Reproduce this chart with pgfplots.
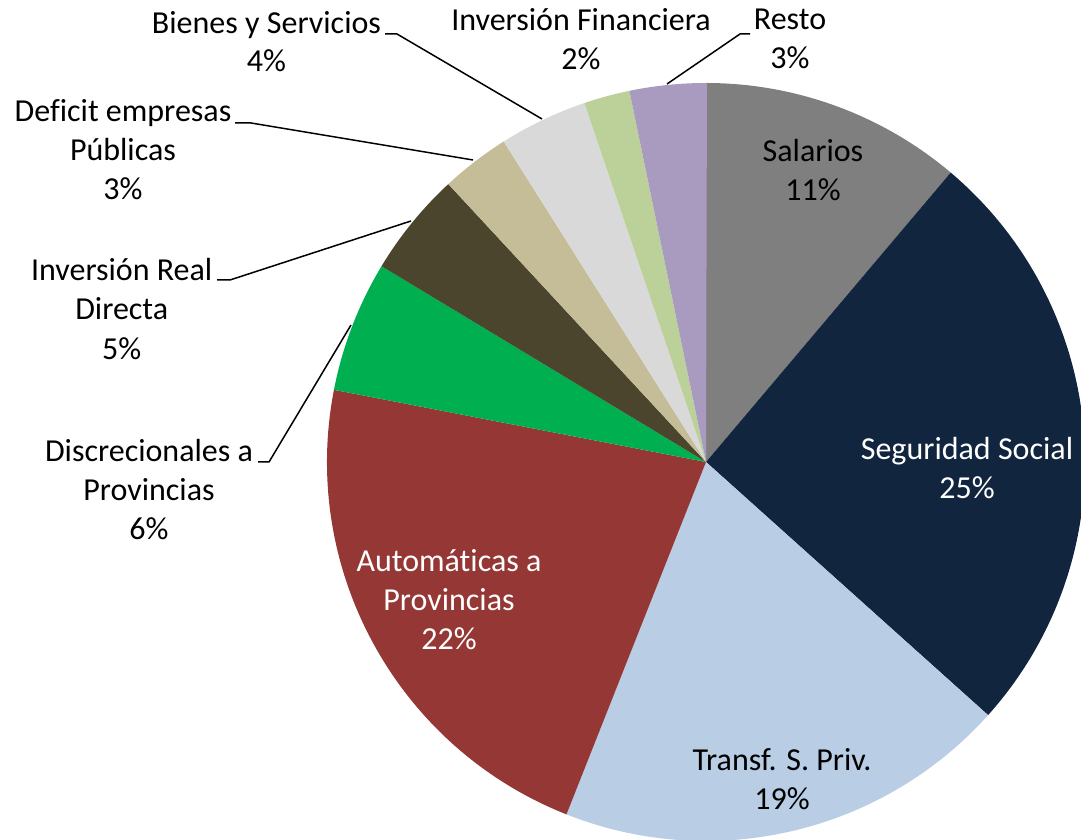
\documentclass[border=0pt]{standalone}
\usepackage{fontspec}
\setmainfont[Ligatures=NoCommon]{Carlito}
\usepackage{pgfplots}
\usepackage{pgfplotstable}
\pgfplotsset{compat=1.18}

\definecolor{cSal}{HTML}{7F7F7F}
\definecolor{cSeg}{HTML}{11253F}
\definecolor{cTra}{HTML}{B9CDE5}
\definecolor{cAut}{HTML}{953735}
\definecolor{cDis}{HTML}{00B050}
\definecolor{cInv}{HTML}{4A452C}
\definecolor{cDef}{HTML}{C4BD97}
\definecolor{cBie}{HTML}{D9D9D9}
\definecolor{cFin}{HTML}{BCD09A}
\definecolor{cRes}{HTML}{A99BC0}

% slice shares (%), clockwise from 12 o'clock
\pgfplotstableread{
value col
11.17 cSal
25.47 cSeg
19.36 cTra
22.05 cAut
5.59  cDis
4.46  cInv
2.94  cDef
3.76  cBie
1.96  cFin
3.28  cRes
}\piedata

\begin{document}
\begin{tikzpicture}[lab/.style={font=\fontsize{32bp}{39bp}\selectfont, anchor=base, inner sep=0pt}]
\begin{axis}[scale only axis, width=1081bp, height=840bp,
  xmin=0, xmax=1081, ymin=0, ymax=840, hide axis, clip=false]
\def\startang{90}
\pgfplotsforeachungrouped \i in {0,...,9}{%
  \pgfplotstablegetelem{\i}{value}\of\piedata \let\v\pgfplotsretval
  \pgfplotstablegetelem{\i}{col}\of\piedata \let\c\pgfplotsretval
  \pgfmathsetmacro\endang{\startang-3.6*\v}%
  \edef\temp{\noexpand\fill[\c] (axis cs:706,378) -- ++(\startang:379bp) arc[start angle=\startang, end angle=\endang, radius=379bp] -- cycle;}%
  \temp
  \global\let\startang\endang
}

% inside labels
\node[lab] at (axis cs:813,678) {Salarios};
\node[lab] at (axis cs:813,639) {11\%};
\node[lab, text=white] at (axis cs:967,380.5) {Seguridad Social};
\node[lab, text=white] at (axis cs:967,341) {25\%};
\node[lab] at (axis cs:782,69) {Transf. S. Priv.};
\node[lab] at (axis cs:782,30) {19\%};
\node[lab, text=white] at (axis cs:449,268) {Automáticas a};
\node[lab, text=white] at (axis cs:449,229) {Provincias};
\node[lab, text=white] at (axis cs:449,190) {22\%};

% outside labels
\node[lab] at (axis cs:149,378.3) {Discrecionales a};
\node[lab] at (axis cs:149,339) {Provincias};
\node[lab] at (axis cs:149,300) {6\%};
\node[lab] at (axis cs:121.7,559.3) {Inversión Real};
\node[lab] at (axis cs:121.7,520) {Directa};
\node[lab] at (axis cs:121.7,480.7) {5\%};
\node[lab] at (axis cs:123,718.3) {Deficit empresas};
\node[lab] at (axis cs:123,679) {Públicas};
\node[lab] at (axis cs:123,640) {3\%};
\node[lab] at (axis cs:266.5,806.5) {Bienes y Servicios};
\node[lab] at (axis cs:266.5,768) {4\%};
\node[lab] at (axis cs:581,809) {Inversión Financiera};
\node[lab] at (axis cs:581,770) {2\%};
\node[lab] at (axis cs:790,810) {Resto};
\node[lab] at (axis cs:790,771.7) {3\%};

% leader lines
\draw[line width=1.5bp] (axis cs:385,806) -- (axis cs:397,806) -- (axis cs:542,721);
\draw[line width=1.5bp] (axis cs:235,717) -- (axis cs:251,717) -- (axis cs:473,680);
\draw[line width=1.5bp] (axis cs:217,560) -- (axis cs:230,560) -- (axis cs:411,619);
\draw[line width=1.5bp] (axis cs:258,378) -- (axis cs:269,378) -- (axis cs:351,515);
\draw[line width=1.5bp] (axis cs:750,806) -- (axis cs:740,806) -- (axis cs:667,756);
\end{axis}
\pgfresetboundingbox
\useasboundingbox (current axis.south west) rectangle (current axis.north east);
\end{tikzpicture}
\end{document}
